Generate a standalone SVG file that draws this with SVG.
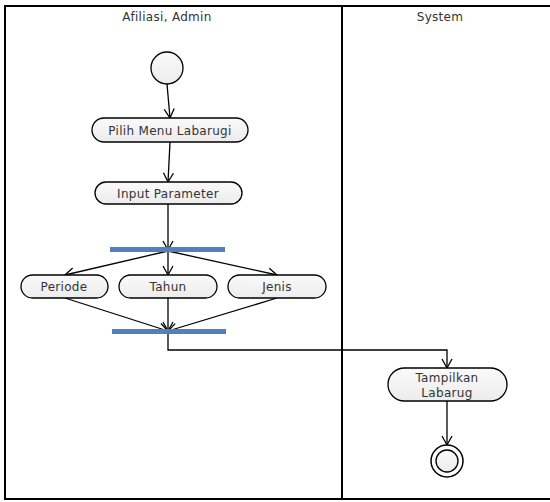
<svg xmlns="http://www.w3.org/2000/svg" width="550" height="502" viewBox="0 0 550 502">
  <defs>
    <marker id="open" markerWidth="12" markerHeight="12" refX="10" refY="6" orient="auto" markerUnits="userSpaceOnUse">
      <path d="M1,1 L10,6 L1,11" fill="none" stroke="#000" stroke-width="1.3"/>
    </marker>
    <linearGradient id="nodeFill" x1="0" y1="0" x2="0" y2="1">
      <stop offset="0" stop-color="#fafafa"/>
      <stop offset="1" stop-color="#ececec"/>
    </linearGradient>
  </defs>
  <style>
    .lane { fill: none; stroke: #000; stroke-width: 2; }
    .act { fill: url(#nodeFill); stroke: #000; stroke-width: 1.3; }
    .txt { font-family: "DejaVu Sans", "Liberation Sans", sans-serif; font-size: 12px; letter-spacing: 0.3px; fill: #333; text-anchor: middle; }
    .bar { fill: #4f81bd; }
    .edge { fill: none; stroke: #000; stroke-width: 1.3; }
    .arr { marker-end: url(#open); }
  </style>

  <rect width="550" height="502" fill="#fff"/>

  <!-- swimlanes -->
  <g id="lanes">
    <path class="lane" d="M551,6 H5 V499 H551"/>
    <line class="lane" x1="342" y1="6" x2="342" y2="499"/>
    <text class="txt" x="167" y="21">Afiliasi, Admin</text>
    <text class="txt" x="440" y="21">System</text>
  </g>

  <!-- connectors -->
  <g id="connectors">
    <line class="edge arr" x1="167" y1="84" x2="170" y2="118"/>
    <line class="edge arr" x1="170" y1="142" x2="168" y2="182"/>
    <line class="edge arr" x1="168" y1="203" x2="168" y2="250"/>
    <line class="edge arr" x1="168" y1="251" x2="65" y2="275"/>
    <line class="edge arr" x1="168" y1="251" x2="168" y2="275"/>
    <line class="edge arr" x1="168" y1="251" x2="277" y2="275"/>
    <line class="edge arr" x1="65" y1="298" x2="168" y2="331"/>
    <line class="edge arr" x1="168" y1="298" x2="168" y2="331"/>
    <line class="edge arr" x1="277" y1="298" x2="168" y2="331"/>
    <path class="edge arr" d="M168,332 V350 H447 V368"/>
    <line class="edge arr" x1="447" y1="401" x2="447" y2="445"/>
  </g>

  <g id="start">
    <circle class="act" cx="167" cy="68" r="16"/>
  </g>

  <g id="pilih-menu">
    <rect class="act" x="92" y="118" width="156" height="24" rx="12"/>
    <text class="txt" x="170" y="134.5">Pilih Menu Labarugi</text>
  </g>

  <g id="input-parameter">
    <rect class="act" x="95" y="182" width="147" height="22" rx="11"/>
    <text class="txt" x="168" y="197.5">Input Parameter</text>
  </g>

  <g id="fork">
    <rect class="bar" x="110" y="247" width="115" height="5"/>
  </g>

  <g id="periode">
    <rect class="act" x="21" y="275" width="87" height="23" rx="11.5"/>
    <text class="txt" x="64" y="290.5">Periode</text>
  </g>

  <g id="tahun">
    <rect class="act" x="119" y="275" width="98" height="23" rx="11.5"/>
    <text class="txt" x="168" y="290.5">Tahun</text>
  </g>

  <g id="jenis">
    <rect class="act" x="228" y="275" width="98" height="23" rx="11.5"/>
    <text class="txt" x="277" y="290.5">Jenis</text>
  </g>

  <g id="join">
    <rect class="bar" x="112" y="329" width="114" height="5"/>
  </g>

  <g id="tampilkan">
    <rect class="act" x="388" y="368" width="119" height="33" rx="16.5"/>
    <text class="txt" x="447" y="381.5">Tampilkan</text>
    <text class="txt" x="447" y="396.5">Labarug</text>
  </g>

  <g id="end">
    <circle cx="447" cy="461" r="16" fill="#fff" stroke="#000" stroke-width="1.5"/>
    <circle class="act" cx="447" cy="461" r="11"/>
  </g>
</svg>
